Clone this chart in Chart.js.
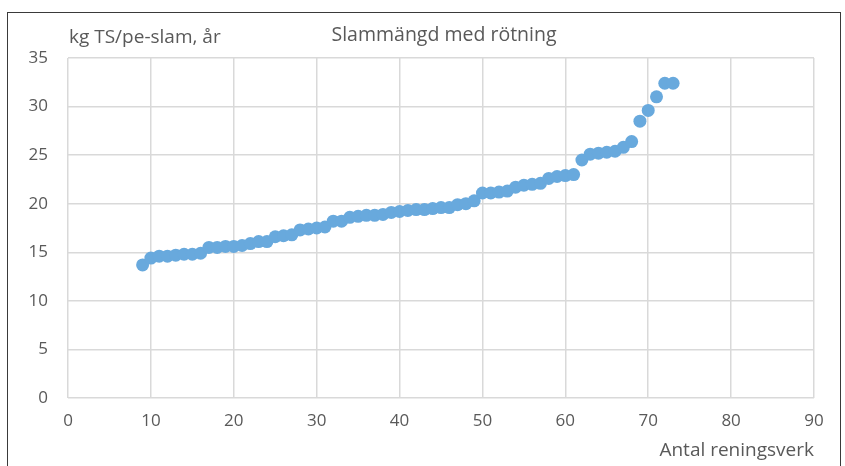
<!DOCTYPE html>
<html>
<head>
<meta charset="utf-8">
<script src="https://cdn.jsdelivr.net/npm/chart.js@4/dist/chart.umd.min.js"></script>
<style>
  html, body { margin: 0; padding: 0; background: #fff; }
  #wrap { position: relative; width: 845px; height: 466px; overflow: hidden; }
  #frame { position: absolute; left: 7px; top: 12px; width: 834px; height: 480px; border: 1px solid #3a3a3a; box-sizing: border-box; }
  canvas { position: absolute; left: 0; top: 0; }
</style>
</head>
<body>
<div id="wrap">
  <div id="frame"></div>
  <canvas id="c" width="845" height="466"></canvas>
</div>
<script>
const plantIndex = [9,10,11,12,13,14,15,16,17,18,19,20,21,22,23,24,25,26,27,28,29,30,31,32,33,34,35,36,37,38,39,40,41,42,43,44,45,46,47,48,49,50,51,52,53,54,55,56,57,58,59,60,61,62,63,64,65,66,67,68,69,70,71,72,73];
const sludgeAmount = [13.7,14.4,14.6,14.6,14.7,14.8,14.8,14.9,15.5,15.5,15.6,15.6,15.7,15.9,16.1,16.1,16.6,16.7,16.8,17.3,17.4,17.5,17.6,18.2,18.2,18.6,18.7,18.8,18.8,18.9,19.1,19.2,19.3,19.4,19.4,19.5,19.6,19.6,19.9,20.0,20.3,21.1,21.1,21.2,21.3,21.7,21.9,22.0,22.1,22.6,22.8,22.9,23.0,24.5,25.1,25.2,25.3,25.4,25.8,26.4,28.5,29.6,31.0,32.4,32.4];
const chartTitle = "Slammängd med rötning";
const yAxisLabel = "kg TS/pe-slam, år";
const xAxisLabel = "Antal reningsverk";

const FONT = "'Open Sans', sans-serif";
const TXT = "#595959";

const topTexts = {
  id: 'topTexts',
  afterDraw(chart) {
    const ctx = chart.ctx;
    ctx.save();
    ctx.fillStyle = TXT;
    ctx.font = "19px " + FONT;
    ctx.textBaseline = 'middle';
    ctx.textAlign = 'left';
    ctx.fillText(yAxisLabel, 69, 38);
    ctx.font = "19.5px " + FONT;
    ctx.textAlign = 'center';
    ctx.fillText(chartTitle, 444, 35);
    ctx.restore();
  }
};

new Chart(document.getElementById('c'), {
  type: 'scatter',
  data: {
    datasets: [{
      data: plantIndex.map((x, i) => ({ x: x, y: sludgeAmount[i] })),
      backgroundColor: '#68a9dd',
      borderColor: '#68a9dd',
      pointRadius: 6.5,
      pointHoverRadius: 6.5,
      borderWidth: 0
    }]
  },
  options: {
    responsive: false,
    animation: false,
    devicePixelRatio: 1,
    layout: { padding: { left: 0, right: 31, top: 58, bottom: 0 } },
    plugins: { legend: { display: false }, tooltip: { enabled: false }, title: { display: false } },
    scales: {
      x: {
        type: 'linear', min: 0, max: 90,
        ticks: { stepSize: 10, color: TXT, font: { family: FONT, size: 17 }, padding: 13 },
        grid: { color: '#d9d9d9', lineWidth: 1.5, drawTicks: false },
        border: { display: false },
        title: { display: true, text: xAxisLabel, align: 'end', color: TXT, font: { family: FONT, size: 19 }, padding: { top: 0, bottom: 4 } },
        afterFit(s) { s.height = 68; }
      },
      y: {
        min: 0, max: 35,
        ticks: { stepSize: 5, color: TXT, font: { family: FONT, size: 17 }, padding: 20 },
        grid: { color: '#d9d9d9', lineWidth: 1.5, drawTicks: false },
        border: { display: false },
        afterFit(s) { s.width = 68; }
      }
    }
  },
  plugins: [topTexts]
});
</script>
</body>
</html>
